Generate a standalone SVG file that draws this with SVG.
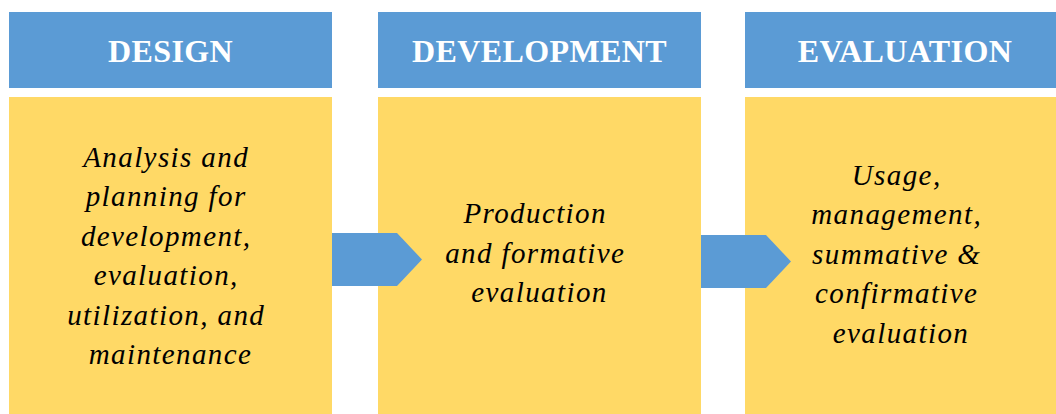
<svg xmlns="http://www.w3.org/2000/svg" width="1056" height="414" viewBox="0 0 1056 414">
  <style>
    .head { fill: #5B9BD5; }
    .body { fill: #FFD966; }
    .arrow { fill: #5B9BD5; }
    .title { font-family: "Liberation Serif", "Times New Roman", serif; font-weight: bold; font-size: 32px; letter-spacing: 0.4px; fill: #FFFFFF; text-anchor: middle; }
    .desc { font-family: "Liberation Serif", "Times New Roman", serif; font-style: italic; font-size: 29px; letter-spacing: 1.4px; fill: #000000; text-anchor: middle; }
  </style>
  <rect width="1056" height="414" fill="#FFFFFF"/>

  <!-- Stage 1 -->
  <g id="design">
    <rect class="head" x="9" y="12" width="323" height="76"/>
    <text class="title" x="170.5" y="62">DESIGN</text>
    <rect class="body" x="9" y="97" width="323" height="317"/>
    <text class="desc">
      <tspan x="170.5" y="167">Analysis and</tspan>
      <tspan x="170.5" y="206.4">planning for</tspan>
      <tspan x="170.5" y="245.8">development,</tspan>
      <tspan x="170.5" y="285.2">evaluation,</tspan>
      <tspan x="170.5" y="324.6">utilization, and</tspan>
      <tspan x="170.5" y="364">maintenance</tspan>
    </text>
  </g>

  <!-- Stage 2 -->
  <g id="development">
    <rect class="head" x="378" y="12" width="323" height="76"/>
    <text class="title" x="539.5" y="62">DEVELOPMENT</text>
    <rect class="body" x="378" y="97" width="323" height="317"/>
    <text class="desc">
      <tspan x="539.5" y="223">Production</tspan>
      <tspan x="539.5" y="262.5">and formative</tspan>
      <tspan x="539.5" y="302">evaluation</tspan>
    </text>
  </g>

  <!-- Stage 3 -->
  <g id="evaluation">
    <rect class="head" x="745" y="12" width="311" height="76"/>
    <text class="title" x="905" y="62">EVALUATION</text>
    <rect class="body" x="745" y="97" width="311" height="317"/>
    <text class="desc">
      <tspan x="901" y="185">Usage,</tspan>
      <tspan x="901" y="224.4">management,</tspan>
      <tspan x="901" y="263.8">summative &amp;</tspan>
      <tspan x="901" y="303.2">confirmative</tspan>
      <tspan x="901" y="342.6">evaluation</tspan>
    </text>
  </g>

  <!-- Connectors -->
  <g id="connectors">
    <polygon class="arrow" points="332,233 397,233 422,259.5 397,286 332,286"/>
    <polygon class="arrow" points="701,235 766,235 791,261.5 766,288 701,288"/>
  </g>
</svg>
